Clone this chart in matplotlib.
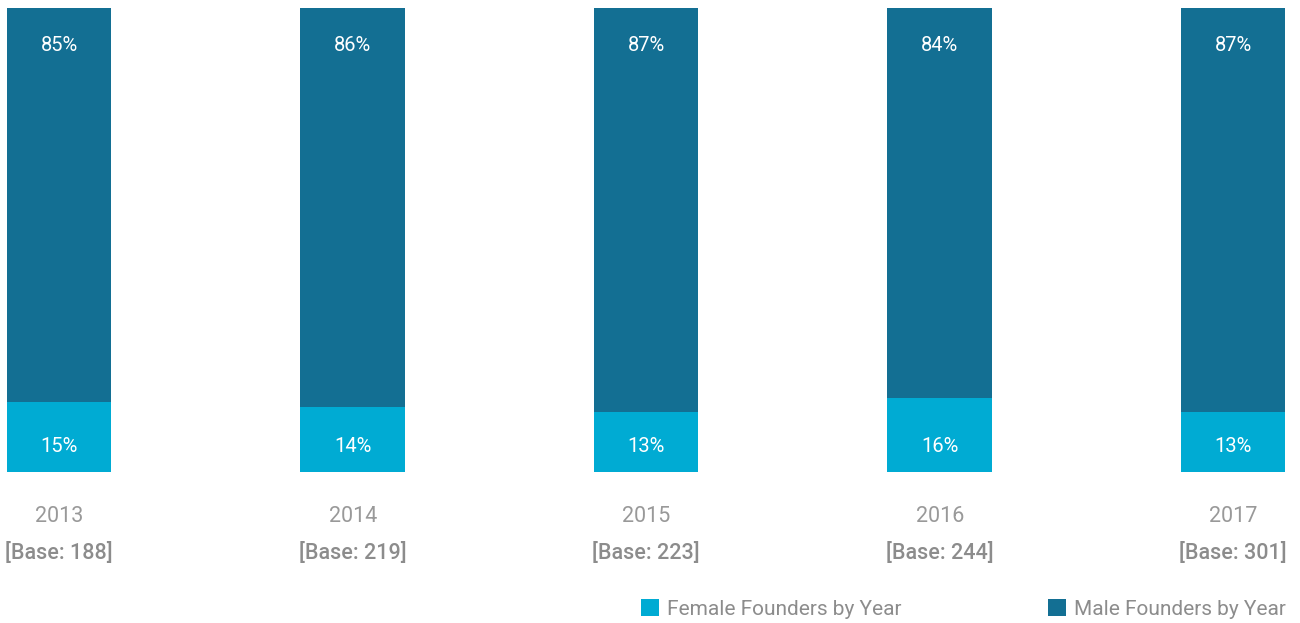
import matplotlib
matplotlib.use("Agg")
import matplotlib.pyplot as plt
import numpy as np

plt.rcParams['font.family'] = ['Roboto', 'DejaVu Sans']

# data
years = ['2013', '2014', '2015', '2016', '2017']
bases = [188, 219, 223, 244, 301]
female = [15, 14, 13, 16, 13]
male = [85, 86, 87, 84, 87]

male_color = '#136f93'
female_color = '#00abd3'
grey = '#8c8c8c'

W, H = 1300, 623
fig = plt.figure(figsize=(W / 100, H / 100), dpi=100)
# axes placed so bars span pixel rows 8..472
ax = fig.add_axes([0, (H - 472) / H, 1, 464 / H])

x = np.arange(len(years))
step = 293.5
width = 104.5 / step
b1 = ax.bar(x, female, width=width, color=female_color, label='Female Founders by Year')
b2 = ax.bar(x, male, width=width, bottom=female, color=male_color, label='Male Founders by Year')

ax.set_xlim(-59.2 / step, (W - 59.2) / step)
ax.set_ylim(0, 100)
ax.axis('off')

for i in range(len(years)):
    ax.text(x[i], 100 - 8, f'{male[i]}%', ha='center', va='center',
            color='white', fontsize=14.5)
    ax.text(x[i], 5.6, f'{female[i]}%', ha='center', va='center',
            color='white', fontsize=14.5)
    ax.text(x[i], (472 - 516) / 464, years[i], transform=ax.get_xaxis_transform(),
            ha='center', va='center', color='#999999', fontsize=15.5)
    ax.text(x[i], (472 - 553) / 464, f'[Base: {bases[i]}]', transform=ax.get_xaxis_transform(),
            ha='center', va='center', color=grey, fontsize=15.5, fontweight='medium')

fig.legend(handles=[b1, b2], loc='center left', bbox_to_anchor=(641 / W, 1 - 609 / H),
           ncol=2, frameon=False, fontsize=15, handlelength=0.87, handleheight=0.87,
           handletextpad=0.4, columnspacing=7.0, labelcolor=grey, borderpad=0,
           borderaxespad=0)

fig.savefig('out.png', dpi=100)
